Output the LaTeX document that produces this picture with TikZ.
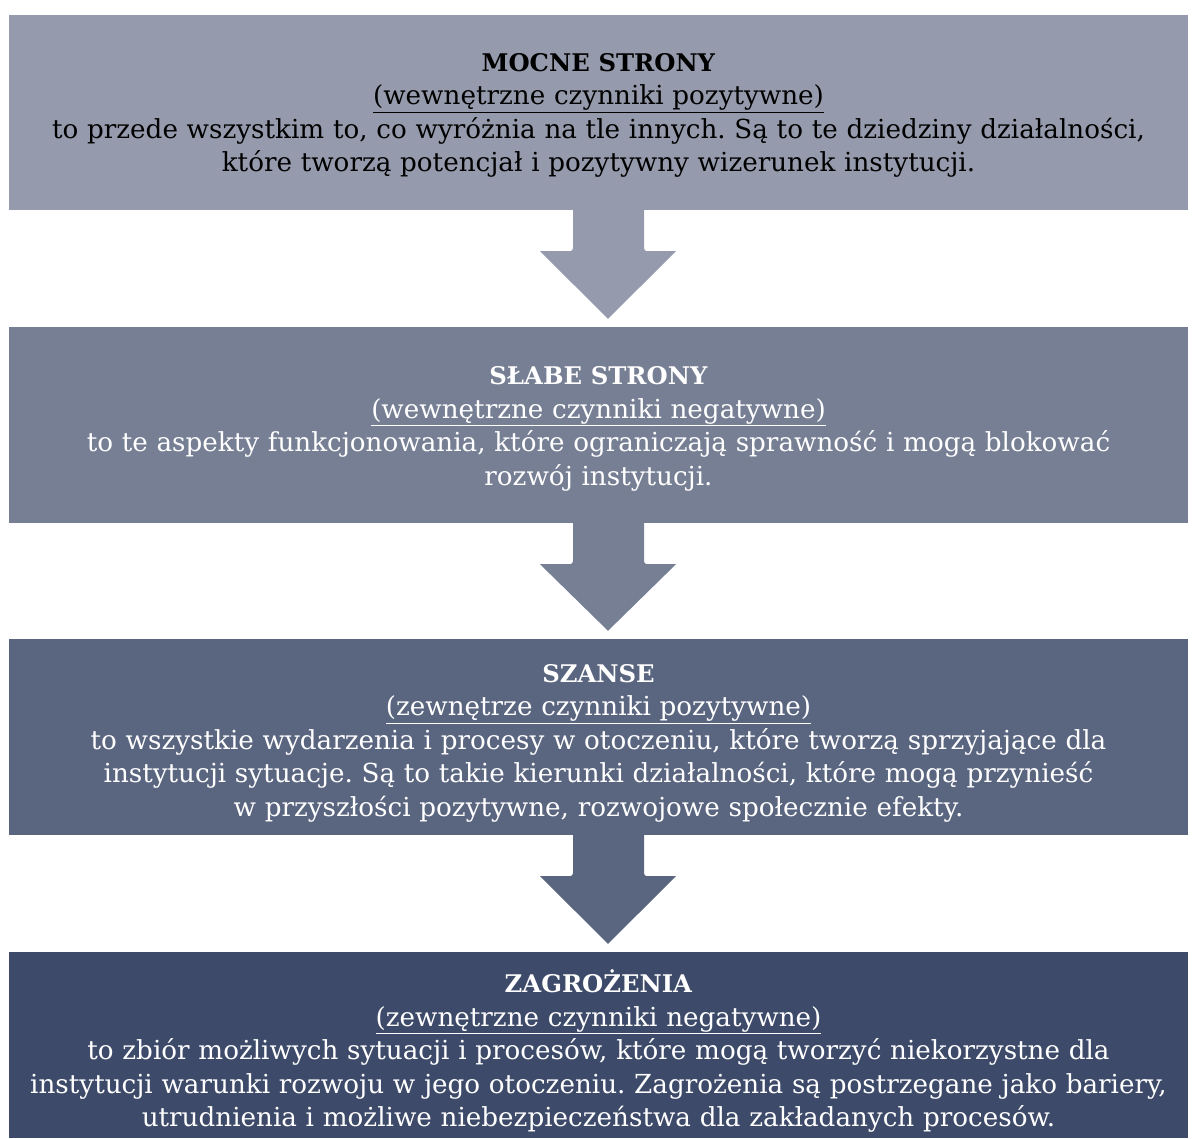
\documentclass[tikz,border=0pt]{standalone}
\usepackage{fontspec}
\setmainfont{DejaVu Serif}
\usetikzlibrary{calc}
\definecolor{swotOne}{RGB}{149,155,172}
\definecolor{swotTwo}{RGB}{119,127,148}
\definecolor{swotThree}{RGB}{90,101,128}
\definecolor{swotFour}{RGB}{61,74,105}
\newcommand{\head}[1]{{\fontsize{24.3}{33.5}\selectfont\textbf{#1}}}
\newcommand{\sub}[1]{\underline{#1}}
% block arrow from one box down to the next: from, to, colour
\newcommand{\swotarrow}[3]{%
  \fill[#3] ($(#1.south)+(-25.5,-1)$) [rounded corners=3pt] -- ($(#1.south)+(-25.5,41)$)
    [sharp corners] -- ($(#1.south)+(-58.5,41)$) -- ($(#2.north)+(9.5,-8)$)
    -- ($(#1.south)+(77.5,41)$) [rounded corners=3pt] -- ($(#1.south)+(45.5,41)$)
    [sharp corners] -- ($(#1.south)+(45.5,-1)$) -- cycle;}

\begin{document}
\frenchspacing
\begin{tikzpicture}[x=1pt,y=-1pt,
      box/.style={inner sep=0pt,minimum width=1179pt},
      txt/.style={inner sep=0pt,text width=1179pt,align=center,
                  font=\fontsize{26.2}{33.5}\selectfont},
      txtDark/.style={txt,text=black},
      txtLight/.style={txt,text=white}]
    \useasboundingbox (0,0) rectangle (1194,1138);
    \node[box,fill=swotOne,minimum height=195pt] (mocne) at (598.5,112.5) {};
    \node[box,fill=swotTwo,minimum height=196pt] (slabe) at (598.5,425) {};
    \node[box,fill=swotThree,minimum height=196pt] (szanse) at (598.5,737) {};
    \node[box,fill=swotFour,minimum height=186pt] (zagrozenia) at (598.5,1045) {};
    \node[txtDark] (mocneTxt) at ([yshift=-3pt]mocne.center) {\head{MOCNE STRONY}\\ \sub{(wewnętrzne czynniki pozytywne)}\\
      to przede wszystkim to, co wyróżnia na tle innych. Są to te dziedziny działalności,\\
      które tworzą potencjał i pozytywny wizerunek instytucji.};
    \node[txtLight] (slabeTxt) at ([yshift=-4pt]slabe.center) {\head{SŁABE STRONY}\\ \sub{(wewnętrzne czynniki negatywne)}\\
      to te aspekty funkcjonowania, które ograniczają sprawność i mogą blokować\\
      rozwój instytucji.};
    \node[txtLight] (szanseTxt) at ([yshift=-6pt]szanse.center) {\head{SZANSE}\\ \sub{(zewnętrze czynniki pozytywne)}\\
      to wszystkie wydarzenia i procesy w otoczeniu, które tworzą sprzyjające dla\\
      instytucji sytuacje. Są to takie kierunki działalności, które mogą przynieść\\
      w przyszłości pozytywne, rozwojowe społecznie efekty.};
    \node[txtLight] (zagrozeniaTxt) at ([yshift=-6pt]zagrozenia.center) {\head{ZAGROŻENIA}\\ \sub{(zewnętrzne czynniki negatywne)}\\
      to zbiór możliwych sytuacji i procesów, które mogą tworzyć niekorzystne dla\\
      instytucji warunki rozwoju w jego otoczeniu. Zagrożenia są postrzegane jako bariery,\\
      utrudnienia i możliwe niebezpieczeństwa dla zakładanych procesów.};
    \swotarrow{mocne}{slabe}{swotOne}
    \swotarrow{slabe}{szanse}{swotTwo}
    \swotarrow{szanse}{zagrozenia}{swotThree}
  \end{tikzpicture}
\end{document}
